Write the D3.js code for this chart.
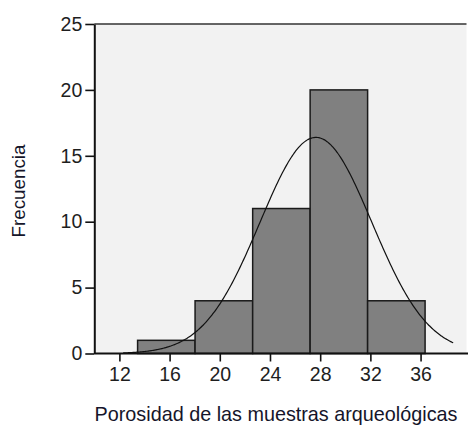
<!DOCTYPE html>
<html><head><meta charset="utf-8">
<script src="https://cdn.jsdelivr.net/npm/d3@7"></script>
<style>html,body{margin:0;padding:0;background:#fff;}svg{display:block;}</style>
</head><body>
<svg id="c" width="468" height="425"></svg>
<script>
// Data
const binStarts = [13.45, 18.03, 22.62, 27.20, 31.78];
const binEnds   = [18.03, 22.62, 27.20, 31.78, 36.36];
const counts    = [1, 4, 11, 20, 4];
const xTicks    = [12, 16, 20, 24, 28, 32, 36];
const yTicks    = [0, 5, 10, 15, 20, 25];
// Fitted normal curve parameters
const curveMean = 27.66, curveSd = 4.46, curveN = 40, curveBinWidth = 4.583;
const curveFrom = 12.3, curveTo = 38.6;
const xTitle = "Porosidad de las muestras arqueológicas";
const yTitle = "Frecuencia";

const svg = d3.select("#c");
const L = 94.3, R = 466.5, T = 24, B = 353.5;
const x = d3.scaleLinear().domain([10, 39.66]).range([L, R]);
const y = d3.scaleLinear().domain([0, 25]).range([B, T]);
const font = "'Liberation Sans', Arial, sans-serif";

svg.append("rect").attr("x", L).attr("y", T).attr("width", R - L).attr("height", B - T).attr("fill", "#f2f2f2");

const bins = counts.map((c, i) => ({x0: binStarts[i], x1: binEnds[i], c}));
svg.append("g").selectAll("rect").data(bins).join("rect")
  .attr("x", d => x(d.x0)).attr("y", d => y(d.c))
  .attr("width", d => x(d.x1) - x(d.x0)).attr("height", d => y(0) - y(d.c))
  .attr("fill", "#808080").attr("stroke", "#1a1a1a").attr("stroke-width", 1.5);

const pts = d3.range(curveFrom, curveTo + 0.001, 0.1).map(v => [v,
  curveN * curveBinWidth / (curveSd * Math.sqrt(2 * Math.PI)) * Math.exp(-0.5 * ((v - curveMean) / curveSd) ** 2)]);
svg.append("path").datum(pts)
  .attr("d", d3.line().x(d => x(d[0])).y(d => y(d[1])).curve(d3.curveBasis))
  .attr("fill", "none").attr("stroke", "#111").attr("stroke-width", 1.2);

// top frame line
svg.append("line").attr("x1", L).attr("x2", R).attr("y1", T).attr("y2", T).attr("stroke", "#333").attr("stroke-width", 1.4);

const xAxis = svg.append("g").attr("transform", `translate(0,${B})`)
  .call(d3.axisBottom(x).tickValues(xTicks).tickSize(8).tickPadding(6).tickSizeOuter(0));
xAxis.select(".domain").attr("d", `M${L},0H468`).attr("stroke", "#111").attr("stroke-width", 2);
xAxis.selectAll(".tick line").attr("stroke", "#111").attr("stroke-width", 1.6);
xAxis.selectAll("text").attr("font-family", font).attr("font-size", 19.5).attr("fill", "#1e1e1e");

const yAxis = svg.append("g").attr("transform", `translate(${L},0)`)
  .call(d3.axisLeft(y).tickValues(yTicks).tickSize(9).tickPadding(3).tickSizeOuter(0));
yAxis.select(".domain").attr("stroke", "#111").attr("stroke-width", 2);
yAxis.selectAll(".tick line").attr("stroke", "#111").attr("stroke-width", 1.6);
yAxis.selectAll("text").attr("font-family", font).attr("font-size", 19.5).attr("fill", "#1e1e1e");

svg.append("text").attr("x", 276).attr("y", 421).attr("text-anchor", "middle")
  .attr("font-family", font).attr("font-size", 19.8).attr("fill", "#15152a").text(xTitle);
svg.append("text").attr("transform", "translate(25,191) rotate(-90)").attr("text-anchor", "middle")
  .attr("font-family", font).attr("font-size", 18.8).attr("fill", "#15152a").text(yTitle);
</script>
</body></html>
